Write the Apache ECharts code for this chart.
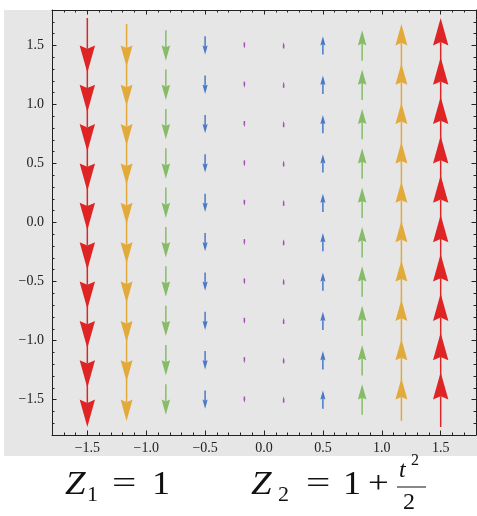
<!DOCTYPE html>
<html>
<head>
<meta charset="utf-8">
<script src="https://cdn.jsdelivr.net/npm/echarts@6/dist/echarts.min.js"></script>
<style>
html,body{margin:0;padding:0;background:#fff;}
#chart{width:477px;height:516px;}
</style>
</head>
<body>
<div id="chart"></div>
<script>
// ---- data ----
const xPositions = [-1.5, -1.1667, -0.8333, -0.5, -0.1667, 0.1667, 0.5, 0.8333, 1.1667, 1.5];
const yPositions = [-1.5, -1.1667, -0.8333, -0.5, -0.1667, 0.1667, 0.5, 0.8333, 1.1667, 1.5];
// vertical field component for each column (horizontal component is 0)
const verticalComponent = [-1.5, -1.1667, -0.8333, -0.5, -0.1667, 0.1667, 0.5, 0.8333, 1.1667, 1.5];
const xTickLabels = [-1.5, -1.0, -0.5, 0.0, 0.5, 1.0, 1.5];
const yTickLabels = [-1.5, -1.0, -0.5, 0.0, 0.5, 1.0, 1.5];

// ---- build ----
const arrowData = [];
xPositions.forEach((x, i) => {
  yPositions.forEach(y => {
    const v = verticalComponent[i];
    arrowData.push([x, y, v, Math.abs(v)]);
  });
});

const ARROW_SCALE = 0.31;
const serif = '"Liberation Serif", "DejaVu Serif", serif';
const fmt = v => (v < 0 ? '\u2212' + Math.abs(v).toFixed(1) : v.toFixed(1));

function majorAxis(pos, labels, showLabels) {
  return {
    type: 'value', position: pos, min: -1.8, max: 1.8,
    axisLine: { show: true, onZero: false, lineStyle: { color: '#222', width: 1 } },
    axisTick: { show: true, inside: true, length: 4.5, customValues: labels, lineStyle: { color: '#222', width: 1 } },
    axisLabel: { show: showLabels, customValues: labels, formatter: fmt, fontFamily: serif, fontSize: 14, color: '#222', margin: pos === 'left' ? 8 : 6 },
    splitLine: { show: false }
  };
}
function minorAxis(pos) {
  return {
    type: 'value', position: pos, min: -1.8, max: 1.8, interval: 0.1,
    axisLine: { show: false, onZero: false },
    axisTick: { show: true, inside: true, length: 2.5, lineStyle: { color: '#222', width: 1 } },
    axisLabel: { show: false },
    splitLine: { show: false }
  };
}

function renderArrow(params, api) {
  const x = api.value(0), y = api.value(1), v = api.value(2);
  const half = v * ARROW_SCALE / 2;
  const tail = api.coord([x, y - half]);
  const tip = api.coord([x, y + half]);
  const dy = tip[1] - tail[1];
  const len = Math.abs(dy);
  const u = dy >= 0 ? 1 : -1;
  const headLen = 0.5 * len;
  const headW = 0.28 * len;
  const cx = tip[0];
  const baseY = tip[1] - u * headLen;
  const notchY = tip[1] - u * headLen * 0.88;
  const color = api.visual('color');
  return {
    type: 'group',
    children: [
      { type: 'line', shape: { x1: cx, y1: tail[1], x2: cx, y2: notchY },
        style: { stroke: color, lineWidth: 1.5 } },
      { type: 'polygon', shape: { points: [[cx, tip[1]], [cx - headW / 2, baseY], [cx, notchY], [cx + headW / 2, baseY]] },
        style: { fill: color } }
    ]
  };
}

const chart = echarts.init(document.getElementById('chart'), null, { renderer: 'canvas' });
const mathFont = (size, italic) => (italic ? 'italic ' : '') + size + 'px ' + serif;
function txt(text, x, y, size, italic, sx) {
  return { type: 'text', x: x, y: y, z: 10, scaleX: sx || 1,
    style: { text: text, font: mathFont(size, italic), fill: '#111', textAlign: 'left', textVerticalAlign: 'middle' } };
}
chart.setOption({
  backgroundColor: '#ffffff',
  animation: false,
  grid: { left: 52, top: 10, right: 1, bottom: 81, containLabel: false },
  xAxis: [majorAxis('bottom', xTickLabels, true), minorAxis('bottom'), majorAxis('top', xTickLabels, false), minorAxis('top')],
  yAxis: [majorAxis('left', yTickLabels, true), minorAxis('left'), majorAxis('right', yTickLabels, false), minorAxis('right')],
  visualMap: {
    show: false, type: 'continuous', dimension: 3, min: 0.1667, max: 1.5, seriesIndex: 0,
    inRange: { color: ['#a04cb0', '#4a78c8', '#86bc68', '#e2aa3a', '#de2424'] }
  },
  series: [{
    type: 'custom', xAxisIndex: 0, yAxisIndex: 0,
    renderItem: renderArrow,
    encode: { x: 0, y: 1 },
    data: arrowData,
    clip: false
  }],
  graphic: [
    { type: 'rect', z: -100, shape: { x: 4, y: 10, width: 473, height: 446 }, style: { fill: '#e6e6e6' } },
    txt('Z', 65, 485, 33, true, 1.12),
    txt('1', 87, 495, 22, false),
    txt('=', 112, 485, 32, false, 1.35),
    txt('1', 152, 485, 33, false, 1.1),
    txt('Z', 251, 485, 33, true, 1.12),
    txt('2', 278, 495, 22, false),
    txt('=', 306, 485, 32, false, 1.35),
    txt('1', 343, 485, 33, false, 1.1),
    txt('+', 368, 485, 32, false, 1.15),
    txt('t', 399, 471, 24, true),
    txt('2', 411, 461, 16, false),
    { type: 'line', z: 10, shape: { x1: 397, y1: 487, x2: 426, y2: 487 }, style: { stroke: '#111', lineWidth: 1 } },
    txt('2', 403, 503, 24, false)
  ]
});
</script>
</body>
</html>
